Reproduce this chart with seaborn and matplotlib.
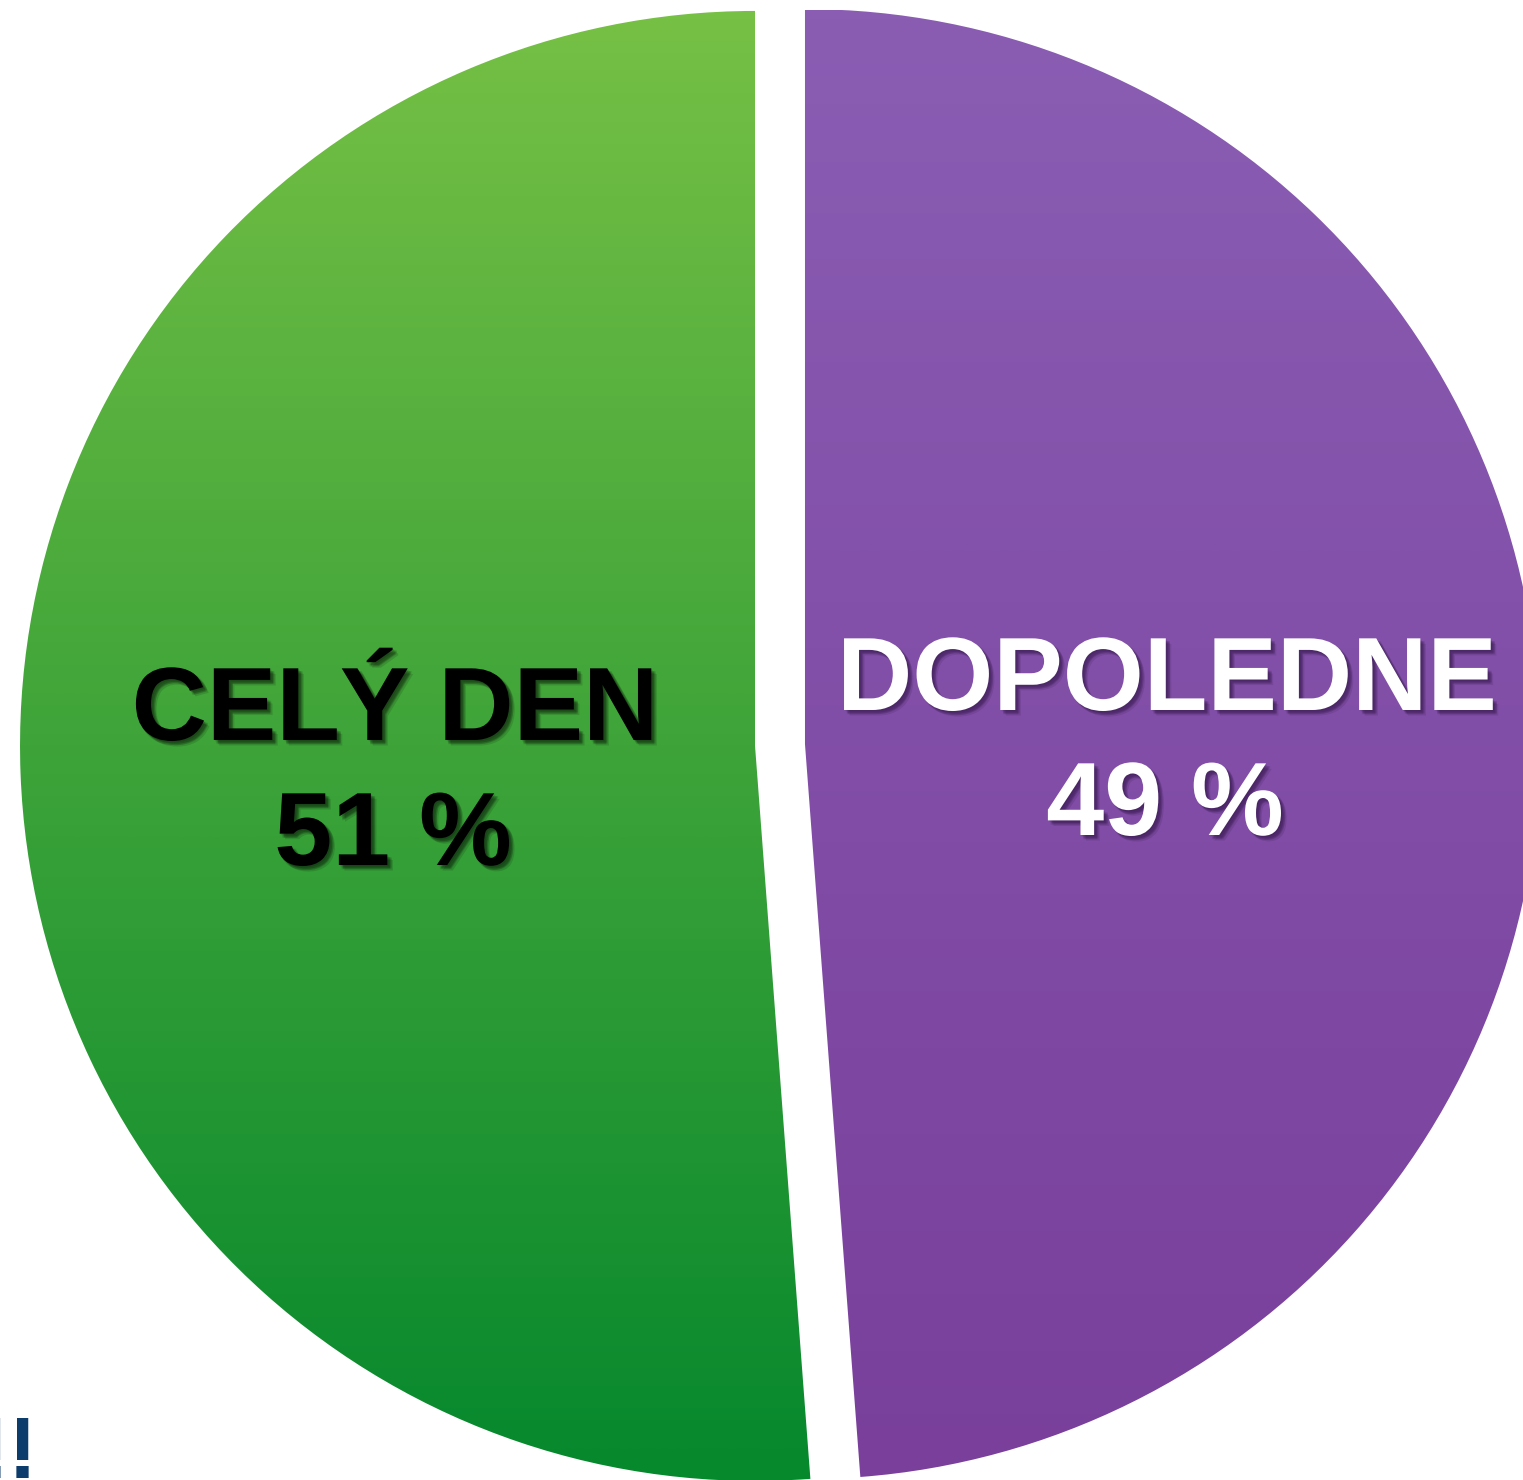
import numpy as np
import matplotlib
matplotlib.use("Agg")
import matplotlib.pyplot as plt
import matplotlib.patheffects as pe
from matplotlib.colors import LinearSegmentedColormap
import seaborn as sns

# data (shares, labels show rounded values)
labels = ["CELÝ DEN", "DOPOLEDNE"]
shares = [51.2, 48.8]
top_colors = ["#76C045", "#8A5DB3"]
bottom_colors = ["#06882D", "#793F9B"]
text_colors = ["black", "white"]

sns.set_theme(style="white")
plt.rcParams['font.family'] = ['Liberation Sans', 'DejaVu Sans']

W, H = 1523, 1480
fig = plt.figure(figsize=(W / 100, H / 100), dpi=100)
ax = fig.add_axes([0, 0, 1, 1])

# pie centre and radius in pixels
cx, cy, R = 780, 745, 735


def px(x, y):
    return (x - cx) / R, (cy - y) / R


wedges, _ = ax.pie(shares, startangle=90, counterclock=True,
                   explode=[0.034, 0.034], radius=1,
                   wedgeprops=dict(linewidth=0))

# vertical gradient inside every slice
grad = np.linspace(0, 1, 256).reshape(-1, 1)
for w, c_top, c_bot in zip(wedges, top_colors, bottom_colors):
    cmap = LinearSegmentedColormap.from_list("g", [c_top, c_bot])
    w.set_facecolor("none")
    im = ax.imshow(grad, cmap=cmap, aspect="auto",
                   extent=[-1.2, 1.2, -1.0, 1.0], origin="upper",
                   interpolation="bicubic", zorder=1)
    im.set_clip_path(w)


def soft_shadow(color, alpha):
    # a few faint offset copies to imitate a blurred drop shadow
    eff = []
    for off in [(1, -1), (2, -2), (3, -3), (4, -4), (3, -2), (2, -3)]:
        eff.append(pe.SimplePatchShadow(offset=off, shadow_rgbFace=color, alpha=alpha))
    eff.append(pe.Normal())
    return eff


shadow_b = soft_shadow("black", 0.12)
shadow_w = soft_shadow("#2a1040", 0.14)

# label positions (pixels): centre x, baseline of name, baseline of percent
label_pos = [(395, 740, 865), (1167, 710, 835)]
for lab, val, col, (lx, b1, b2) in zip(labels, shares, text_colors, label_pos):
    eff = shadow_b if col == "black" else shadow_w
    x1, y1 = px(lx, b1)
    x2, y2 = px(lx - 2, b2)
    ax.text(x1, y1, lab, ha="center", va="baseline", fontsize=75,
            fontweight="bold", color=col, path_effects=eff, zorder=3)
    ax.text(x2, y2, f"{round(val)} %", ha="center", va="baseline", fontsize=75,
            fontweight="bold", color=col, path_effects=eff, zorder=3)

ax.set_xlim(px(0, 0)[0], px(W, 0)[0])
ax.set_ylim(px(0, H)[1], px(0, 0)[1])
ax.set_aspect("auto")
ax.axis("off")

# logo fragment bottom left
fig.text(38 / W, 2 / H, "!!", ha="right", va="baseline", fontsize=63,
         fontweight="bold", color="#0B3C6B")

fig.savefig("out.png", dpi=100, facecolor="white")
